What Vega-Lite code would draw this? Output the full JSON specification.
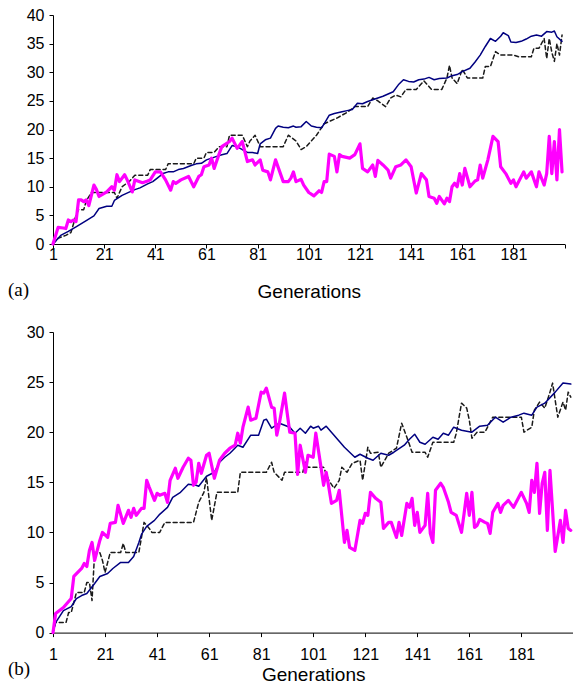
{
  "$schema": "https://vega.github.io/schema/vega-lite/v6.json",
  "padding": {"left": 8, "top": 7, "right": 0, "bottom": 0},
  "bounds": "flush",
  "spacing": 88,
  "config": {
    "view": {"stroke": null},
    "axis": {"domainColor": "#000", "tickColor": "#000", "labelColor": "#000", "titleColor": "#000", "labelFont": "Liberation Sans", "titleFont": "Liberation Sans", "labelFontSize": 16, "titleFontSize": 19, "titleFontWeight": "normal", "grid": false, "tickSize": 4, "domainWidth": 1, "tickWidth": 1},
    "line": {"strokeJoin": "round", "strokeCap": "round"}
  },
  "datasets": {
    "a_best": [{"g":1,"v":0},{"g":3,"v":1},{"g":6,"v":1.5},{"g":8,"v":2},{"g":10,"v":5},{"g":11,"v":6},{"g":13,"v":6},{"g":14,"v":7.5},{"g":16,"v":9},{"g":25,"v":9},{"g":26,"v":8},{"g":28,"v":10},{"g":31,"v":11},{"g":33,"v":12},{"g":38,"v":12},{"g":39,"v":13},{"g":45,"v":13},{"g":46,"v":14},{"g":56,"v":14},{"g":57,"v":15},{"g":60,"v":15},{"g":61,"v":16},{"g":64,"v":16},{"g":66,"v":17},{"g":69,"v":17},{"g":70,"v":19},{"g":75,"v":19},{"g":77,"v":17},{"g":78,"v":18},{"g":80,"v":19},{"g":82,"v":17},{"g":84,"v":17},{"g":91,"v":17},{"g":93,"v":19},{"g":96,"v":18},{"g":98,"v":16.5},{"g":100,"v":17},{"g":104,"v":19},{"g":107,"v":21},{"g":112,"v":22},{"g":116,"v":23},{"g":119,"v":24},{"g":124,"v":24},{"g":126,"v":25.5},{"g":128,"v":25},{"g":131,"v":24},{"g":133,"v":25.5},{"g":135,"v":26},{"g":137,"v":25.7},{"g":139,"v":27},{"g":143,"v":27},{"g":146,"v":28.5},{"g":149,"v":27},{"g":153,"v":27},{"g":155,"v":29},{"g":156,"v":31.2},{"g":157,"v":29},{"g":159,"v":28},{"g":161,"v":30.5},{"g":163,"v":29},{"g":169,"v":29},{"g":170,"v":31},{"g":172,"v":31},{"g":174,"v":33.6},{"g":176,"v":33},{"g":181,"v":33},{"g":183,"v":32.7},{"g":188,"v":32.7},{"g":189,"v":34.2},{"g":191,"v":34.2},{"g":193,"v":35.9},{"g":194,"v":32.4},{"g":195,"v":35.9},{"g":196,"v":33.5},{"g":197,"v":31.9},{"g":198,"v":35},{"g":199,"v":33},{"g":200,"v":36.5}],
    "a_avg": [{"g":1,"v":0},{"g":4,"v":1.5},{"g":7,"v":2.2},{"g":10,"v":3.0},{"g":14,"v":4.1},{"g":17,"v":4.9},{"g":19,"v":6.2},{"g":22,"v":6.6},{"g":24,"v":6.6},{"g":25,"v":7.6},{"g":28,"v":8.5},{"g":31,"v":9.1},{"g":33,"v":9.5},{"g":35,"v":9.8},{"g":38,"v":10.5},{"g":40,"v":10.9},{"g":42,"v":11.6},{"g":44,"v":12.3},{"g":46,"v":12.6},{"g":48,"v":12.6},{"g":50,"v":13.0},{"g":52,"v":13.2},{"g":55,"v":13.7},{"g":57,"v":14.0},{"g":59,"v":14.1},{"g":61,"v":14.7},{"g":63,"v":15.0},{"g":65,"v":15.3},{"g":67,"v":15.6},{"g":69,"v":15.8},{"g":71,"v":17.2},{"g":73,"v":17.0},{"g":75,"v":16.5},{"g":77,"v":16.0},{"g":79,"v":16.0},{"g":81,"v":15.8},{"g":82,"v":17.5},{"g":84,"v":18.2},{"g":86,"v":18.5},{"g":88,"v":20.2},{"g":89,"v":20.6},{"g":91,"v":20.4},{"g":93,"v":20.3},{"g":95,"v":20.6},{"g":96,"v":20.4},{"g":98,"v":20.5},{"g":100,"v":21.4},{"g":102,"v":20.6},{"g":104,"v":20.4},{"g":106,"v":20.3},{"g":107,"v":21.0},{"g":109,"v":22.5},{"g":111,"v":22.8},{"g":114,"v":23.1},{"g":116,"v":23.3},{"g":118,"v":23.5},{"g":120,"v":24.6},{"g":122,"v":24.5},{"g":124,"v":24.9},{"g":126,"v":25.2},{"g":128,"v":25.5},{"g":130,"v":25.8},{"g":132,"v":26.2},{"g":134,"v":26.6},{"g":136,"v":27.8},{"g":138,"v":28.7},{"g":140,"v":28.4},{"g":142,"v":28.3},{"g":144,"v":28.7},{"g":146,"v":28.8},{"g":148,"v":29.1},{"g":150,"v":28.7},{"g":152,"v":28.9},{"g":155,"v":29.0},{"g":157,"v":29.4},{"g":159,"v":29.6},{"g":161,"v":30.1},{"g":164,"v":30.7},{"g":166,"v":31.8},{"g":168,"v":33.0},{"g":170,"v":34.5},{"g":172,"v":35.9},{"g":174,"v":35.4},{"g":176,"v":36.3},{"g":177,"v":36.9},{"g":179,"v":36.4},{"g":180,"v":35.3},{"g":182,"v":35.2},{"g":184,"v":35.4},{"g":186,"v":35.8},{"g":188,"v":36.3},{"g":190,"v":36.5},{"g":192,"v":36.3},{"g":194,"v":37.1},{"g":196,"v":37.0},{"g":197,"v":37.2},{"g":198,"v":36.2},{"g":200,"v":35.4}],
    "a_mag": [{"g":1,"v":0},{"g":3,"v":2.9},{"g":5,"v":2.8},{"g":6,"v":2.7},{"g":7,"v":4.2},{"g":8,"v":3.9},{"g":9,"v":4.2},{"g":10,"v":3.9},{"g":11,"v":7.7},{"g":12,"v":7.7},{"g":13,"v":7.4},{"g":14,"v":7.7},{"g":15,"v":6.7},{"g":17,"v":10.3},{"g":18,"v":9.5},{"g":19,"v":8.3},{"g":22,"v":9.1},{"g":24,"v":10.0},{"g":25,"v":9.4},{"g":26,"v":12.1},{"g":27,"v":10.9},{"g":29,"v":12.1},{"g":30,"v":11.2},{"g":32,"v":9.1},{"g":33,"v":11.2},{"g":36,"v":10.7},{"g":38,"v":11.0},{"g":39,"v":11.2},{"g":41,"v":12.6},{"g":43,"v":12.6},{"g":45,"v":11.2},{"g":47,"v":9.4},{"g":48,"v":10.9},{"g":49,"v":10.6},{"g":51,"v":11.2},{"g":54,"v":11.8},{"g":56,"v":10.0},{"g":58,"v":11.8},{"g":59,"v":12.1},{"g":60,"v":13.5},{"g":62,"v":13.8},{"g":63,"v":15.0},{"g":64,"v":13.2},{"g":66,"v":15.8},{"g":67,"v":17.0},{"g":70,"v":17.9},{"g":71,"v":18.5},{"g":73,"v":16.7},{"g":75,"v":17.9},{"g":77,"v":14.4},{"g":79,"v":14.7},{"g":80,"v":13.8},{"g":82,"v":14.7},{"g":83,"v":12.9},{"g":85,"v":12.6},{"g":86,"v":11.2},{"g":88,"v":14.7},{"g":91,"v":10.9},{"g":93,"v":10.9},{"g":94,"v":11.5},{"g":95,"v":12.6},{"g":96,"v":10.9},{"g":98,"v":11.3},{"g":99,"v":10.3},{"g":101,"v":9.0},{"g":103,"v":8.4},{"g":105,"v":9.3},{"g":106,"v":9.0},{"g":107,"v":10.9},{"g":108,"v":10.9},{"g":109,"v":15.7},{"g":111,"v":15.3},{"g":112,"v":12.6},{"g":113,"v":15.6},{"g":114,"v":15.3},{"g":117,"v":15.0},{"g":119,"v":15.6},{"g":121,"v":17.5},{"g":122,"v":13.2},{"g":124,"v":12.6},{"g":126,"v":13.8},{"g":127,"v":11.8},{"g":128,"v":14.6},{"g":130,"v":13.8},{"g":132,"v":12.9},{"g":133,"v":11.5},{"g":135,"v":13.5},{"g":137,"v":13.8},{"g":139,"v":14.7},{"g":141,"v":13.5},{"g":143,"v":8.9},{"g":145,"v":12.3},{"g":147,"v":11.2},{"g":148,"v":8.3},{"g":150,"v":8.0},{"g":151,"v":7.1},{"g":152,"v":8.3},{"g":154,"v":7.0},{"g":155,"v":8.0},{"g":156,"v":7.4},{"g":157,"v":10.0},{"g":158,"v":10.6},{"g":159,"v":10.0},{"g":160,"v":12.3},{"g":161,"v":10.3},{"g":162,"v":13.2},{"g":164,"v":10.0},{"g":166,"v":11.0},{"g":167,"v":11.2},{"g":168,"v":13.8},{"g":169,"v":11.5},{"g":171,"v":14.7},{"g":173,"v":18.8},{"g":175,"v":17.9},{"g":176,"v":13.5},{"g":178,"v":12.3},{"g":180,"v":10.6},{"g":181,"v":11.2},{"g":182,"v":10.0},{"g":185,"v":12.6},{"g":186,"v":11.5},{"g":188,"v":12.6},{"g":190,"v":10.0},{"g":191,"v":12.6},{"g":193,"v":10.3},{"g":194,"v":12.3},{"g":195,"v":18.8},{"g":196,"v":12.3},{"g":197,"v":17.9},{"g":198,"v":11.2},{"g":199,"v":20.0},{"g":200,"v":12.6}],
    "b_best": [{"g":1,"v":0},{"g":2,"v":1},{"g":6,"v":1},{"g":7,"v":2},{"g":8,"v":2},{"g":10,"v":4},{"g":13,"v":4},{"g":14,"v":5},{"g":15,"v":5},{"g":16,"v":3.2},{"g":17,"v":8},{"g":19,"v":8},{"g":20,"v":7.2},{"g":21,"v":6},{"g":23,"v":8},{"g":27,"v":8},{"g":28,"v":8.9},{"g":29,"v":8},{"g":34,"v":8},{"g":36,"v":11},{"g":38,"v":10.4},{"g":39,"v":10},{"g":42,"v":10},{"g":44,"v":11},{"g":55,"v":11},{"g":57,"v":13},{"g":59,"v":14},{"g":60,"v":15.5},{"g":62,"v":11.2},{"g":64,"v":14},{"g":72,"v":14},{"g":73,"v":16},{"g":83,"v":16},{"g":85,"v":17},{"g":86,"v":16},{"g":89,"v":15.2},{"g":90,"v":16},{"g":97,"v":16},{"g":98,"v":17},{"g":99,"v":16.5},{"g":105,"v":16.5},{"g":107,"v":15.2},{"g":109,"v":14.4},{"g":111,"v":15.2},{"g":112,"v":16.5},{"g":114,"v":16},{"g":116,"v":16.9},{"g":119,"v":17.2},{"g":120,"v":15.2},{"g":122,"v":18.5},{"g":123,"v":17.9},{"g":126,"v":18},{"g":127,"v":16.5},{"g":130,"v":17.9},{"g":133,"v":18.4},{"g":135,"v":20.9},{"g":137,"v":19.5},{"g":139,"v":18},{"g":144,"v":18},{"g":145,"v":17.5},{"g":147,"v":19},{"g":155,"v":19},{"g":156,"v":19.9},{"g":158,"v":22.9},{"g":160,"v":22.4},{"g":161,"v":21.2},{"g":162,"v":19.4},{"g":164,"v":20},{"g":167,"v":20},{"g":170,"v":21.5},{"g":181,"v":21.5},{"g":182,"v":20},{"g":185,"v":20.5},{"g":186,"v":22.2},{"g":188,"v":23},{"g":190,"v":22.4},{"g":192,"v":24},{"g":193,"v":24.9},{"g":195,"v":21.5},{"g":197,"v":23},{"g":198,"v":22.2},{"g":199,"v":24},{"g":200,"v":23.5}],
    "b_avg": [{"g":1,"v":0},{"g":2,"v":1.0},{"g":5,"v":2.2},{"g":8,"v":2.6},{"g":10,"v":3.4},{"g":12,"v":3.7},{"g":14,"v":3.9},{"g":17,"v":4.9},{"g":19,"v":5.6},{"g":22,"v":5.9},{"g":24,"v":6.4},{"g":27,"v":7.0},{"g":30,"v":7.0},{"g":32,"v":7.6},{"g":34,"v":9.0},{"g":35,"v":9.8},{"g":37,"v":10.6},{"g":40,"v":11.2},{"g":42,"v":11.8},{"g":45,"v":12.5},{"g":47,"v":13.5},{"g":50,"v":14.0},{"g":53,"v":14.8},{"g":56,"v":14.7},{"g":57,"v":14.6},{"g":60,"v":15.6},{"g":63,"v":16.0},{"g":65,"v":17.0},{"g":67,"v":17.5},{"g":69,"v":17.9},{"g":72,"v":18.7},{"g":74,"v":18.5},{"g":77,"v":19.7},{"g":80,"v":19.7},{"g":82,"v":21.2},{"g":83,"v":21.3},{"g":85,"v":20.4},{"g":88,"v":20.9},{"g":90,"v":20.7},{"g":92,"v":20.5},{"g":94,"v":19.9},{"g":96,"v":20.4},{"g":98,"v":19.9},{"g":100,"v":20.6},{"g":101,"v":20.4},{"g":103,"v":20.6},{"g":104,"v":20.2},{"g":106,"v":20.6},{"g":109,"v":19.7},{"g":113,"v":18.5},{"g":115,"v":18.0},{"g":117,"v":17.5},{"g":119,"v":17.8},{"g":122,"v":17.4},{"g":124,"v":17.2},{"g":127,"v":17.9},{"g":130,"v":17.7},{"g":132,"v":18.0},{"g":136,"v":18.7},{"g":138,"v":19.3},{"g":140,"v":19.8},{"g":142,"v":19.0},{"g":144,"v":18.8},{"g":147,"v":19.5},{"g":149,"v":19.3},{"g":151,"v":19.9},{"g":153,"v":19.7},{"g":155,"v":20.5},{"g":158,"v":20.2},{"g":162,"v":20.0},{"g":165,"v":20.6},{"g":168,"v":20.7},{"g":171,"v":21.5},{"g":174,"v":21.0},{"g":177,"v":21.5},{"g":180,"v":21.7},{"g":182,"v":21.9},{"g":185,"v":21.7},{"g":187,"v":22.5},{"g":190,"v":22.9},{"g":194,"v":24.0},{"g":197,"v":24.9},{"g":200,"v":24.8}],
    "b_mag": [{"g":1,"v":0},{"g":2,"v":1.9},{"g":5,"v":2.5},{"g":7,"v":3.1},{"g":8,"v":3.4},{"g":9,"v":5.6},{"g":12,"v":6.4},{"g":13,"v":6.9},{"g":14,"v":6.6},{"g":15,"v":8.2},{"g":16,"v":9.0},{"g":17,"v":7.2},{"g":19,"v":9.2},{"g":20,"v":10.0},{"g":22,"v":9.5},{"g":23,"v":10.9},{"g":25,"v":11.0},{"g":26,"v":12.7},{"g":28,"v":10.9},{"g":30,"v":12.2},{"g":31,"v":11.5},{"g":32,"v":12.4},{"g":33,"v":11.7},{"g":35,"v":12.4},{"g":36,"v":12.4},{"g":37,"v":15.2},{"g":38,"v":14.5},{"g":40,"v":13.2},{"g":41,"v":13.9},{"g":42,"v":13.7},{"g":44,"v":13.9},{"g":45,"v":13.0},{"g":46,"v":15.2},{"g":48,"v":16.4},{"g":49,"v":15.4},{"g":51,"v":16.5},{"g":53,"v":17.4},{"g":54,"v":17.2},{"g":55,"v":14.7},{"g":56,"v":15.0},{"g":57,"v":16.9},{"g":58,"v":15.9},{"g":60,"v":17.7},{"g":61,"v":17.9},{"g":63,"v":15.4},{"g":65,"v":17.2},{"g":67,"v":17.9},{"g":69,"v":18.4},{"g":71,"v":18.7},{"g":72,"v":19.9},{"g":73,"v":18.9},{"g":74,"v":20.5},{"g":76,"v":22.5},{"g":77,"v":21.2},{"g":79,"v":21.4},{"g":81,"v":24.0},{"g":82,"v":23.9},{"g":83,"v":24.4},{"g":85,"v":22.5},{"g":86,"v":22.4},{"g":87,"v":19.7},{"g":88,"v":20.9},{"g":90,"v":23.9},{"g":91,"v":21.9},{"g":92,"v":20.0},{"g":94,"v":19.9},{"g":95,"v":15.8},{"g":96,"v":18.7},{"g":98,"v":16.0},{"g":99,"v":17.7},{"g":101,"v":17.5},{"g":102,"v":19.9},{"g":104,"v":16.5},{"g":105,"v":14.7},{"g":106,"v":16.0},{"g":107,"v":14.5},{"g":108,"v":12.9},{"g":110,"v":13.2},{"g":111,"v":14.2},{"g":113,"v":9.0},{"g":114,"v":10.2},{"g":115,"v":8.5},{"g":117,"v":8.2},{"g":119,"v":11.2},{"g":120,"v":10.9},{"g":121,"v":11.9},{"g":122,"v":11.7},{"g":123,"v":14.0},{"g":125,"v":13.4},{"g":127,"v":13.0},{"g":128,"v":10.4},{"g":130,"v":11.0},{"g":131,"v":11.0},{"g":133,"v":9.5},{"g":134,"v":11.0},{"g":135,"v":9.7},{"g":137,"v":12.9},{"g":138,"v":12.5},{"g":139,"v":13.4},{"g":140,"v":10.7},{"g":141,"v":12.0},{"g":142,"v":10.0},{"g":144,"v":10.7},{"g":145,"v":13.9},{"g":146,"v":9.9},{"g":147,"v":9.0},{"g":148,"v":14.2},{"g":150,"v":14.9},{"g":151,"v":14.5},{"g":153,"v":13.0},{"g":154,"v":12.0},{"g":156,"v":11.7},{"g":158,"v":10.0},{"g":159,"v":11.9},{"g":160,"v":13.9},{"g":161,"v":11.7},{"g":162,"v":14.0},{"g":163,"v":10.5},{"g":164,"v":10.7},{"g":165,"v":11.3},{"g":167,"v":11.0},{"g":168,"v":10.9},{"g":169,"v":9.9},{"g":170,"v":12.0},{"g":172,"v":12.9},{"g":173,"v":12.0},{"g":174,"v":12.7},{"g":176,"v":13.2},{"g":178,"v":12.5},{"g":181,"v":14.0},{"g":183,"v":12.9},{"g":184,"v":12.0},{"g":185,"v":15.2},{"g":186,"v":14.0},{"g":187,"v":16.9},{"g":188,"v":11.9},{"g":189,"v":14.9},{"g":190,"v":16.0},{"g":191,"v":10.2},{"g":192,"v":16.2},{"g":193,"v":12.2},{"g":194,"v":8.1},{"g":196,"v":11.2},{"g":197,"v":9.0},{"g":198,"v":12.2},{"g":199,"v":10.4},{"g":200,"v":10.2}]
  },
  "vconcat": [
    {
      "width": 511.6,
      "height": 229,
      "title": {"text": "(a)", "orient": "bottom", "anchor": "start", "frame": "group", "font": "Liberation Serif", "fontSize": 19, "fontWeight": "normal", "color": "#000", "dx": -45, "dy": -24},
      "encoding": {
        "x": {"field": "g", "type": "quantitative", "scale": {"domain": [1, 201], "nice": false, "zero": false}, "axis": {"values": [1, 21, 41, 61, 81, 101, 121, 141, 161, 181, 201], "labelExpr": "datum.value > 200 ? '' : datum.label", "title": "Generations", "labelPadding": -2, "titlePadding": 20, "labelFlush": false}},
        "y": {"field": "v", "type": "quantitative", "scale": {"domain": [0, 40], "nice": false}, "axis": {"values": [0, 5, 10, 15, 20, 25, 30, 35, 40], "title": null, "labelPadding": 5}}
      },
      "layer": [
        {"data": {"name": "a_best"}, "mark": {"type": "line", "color": "#1a1a1a", "strokeDash": [4, 3], "strokeWidth": 1.5}},
        {"data": {"name": "a_avg"}, "mark": {"type": "line", "color": "#000080", "strokeWidth": 1.5}},
        {"data": {"name": "a_mag"}, "mark": {"type": "line", "color": "#ff00ff", "strokeWidth": 3.2}}
      ]
    },
    {
      "width": 520.4,
      "height": 300.6,
      "title": {"text": "(b)", "orient": "bottom", "anchor": "start", "frame": "group", "font": "Liberation Serif", "fontSize": 19, "fontWeight": "normal", "color": "#000", "dx": -45, "dy": -29},
      "encoding": {
        "x": {"field": "g", "type": "quantitative", "scale": {"domain": [1, 201], "nice": false, "zero": false}, "axis": {"values": [1, 21, 41, 61, 81, 101, 121, 141, 161, 181, 201], "labelExpr": "datum.value > 200 ? '' : datum.label", "title": "Generations", "labelPadding": 10, "titlePadding": 3, "labelFlush": false}},
        "y": {"field": "v", "type": "quantitative", "scale": {"domain": [0, 30], "nice": false}, "axis": {"values": [0, 5, 10, 15, 20, 25, 30], "title": null, "labelPadding": 5}}
      },
      "layer": [
        {"data": {"name": "b_best"}, "mark": {"type": "line", "color": "#1a1a1a", "strokeDash": [4, 3], "strokeWidth": 1.5}},
        {"data": {"name": "b_avg"}, "mark": {"type": "line", "color": "#000080", "strokeWidth": 1.5}},
        {"data": {"name": "b_mag"}, "mark": {"type": "line", "color": "#ff00ff", "strokeWidth": 3.2}}
      ]
    }
  ]
}
